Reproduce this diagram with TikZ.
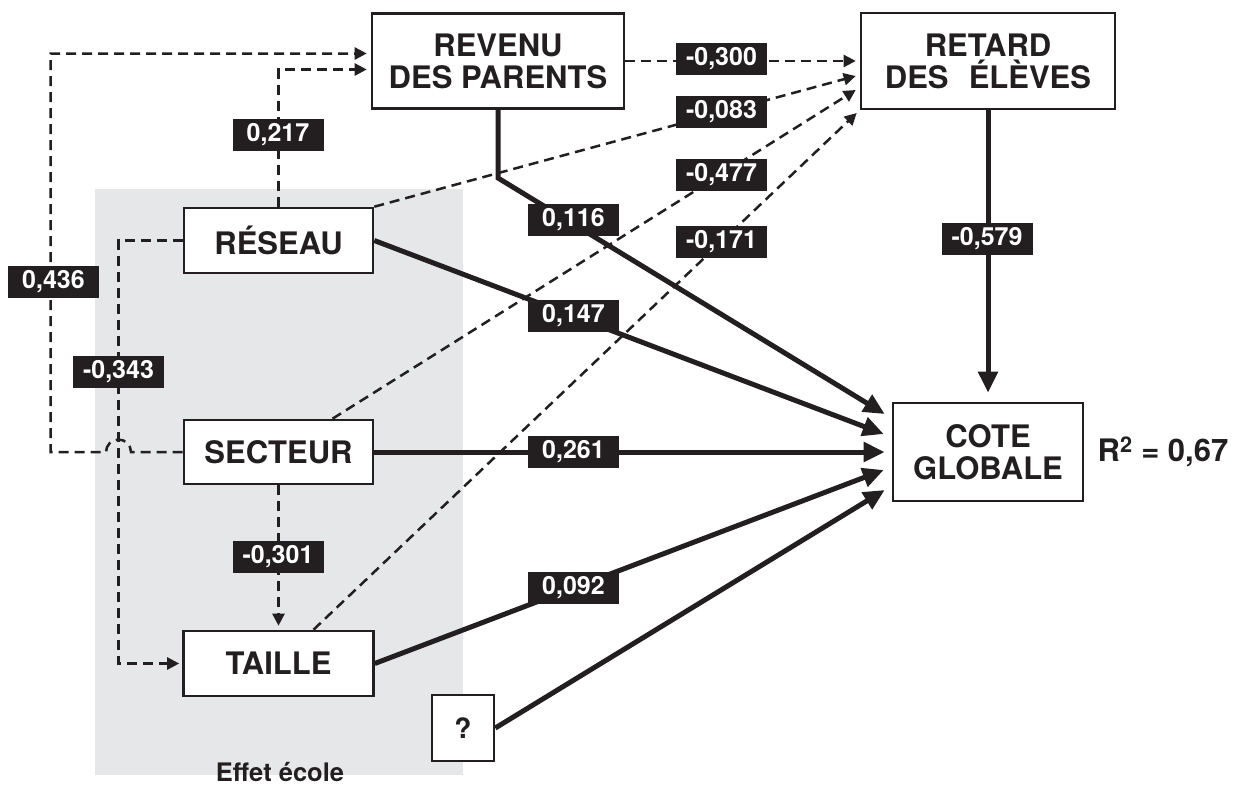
\documentclass[tikz,border=0pt]{standalone}
\usepackage{fontspec}
\setmainfont{TeX Gyre Heros}
\usetikzlibrary{arrows.meta}
\definecolor{ink}{HTML}{231F20}
\definecolor{zone}{HTML}{E6E7E8}
\begin{document}
\begin{tikzpicture}[x=1pt,y=-1pt,
  var/.style={draw=ink, line width=2.6pt, fill=white, align=center, inner sep=0pt,
    font=\fontsize{31}{32}\selectfont\bfseries, text=ink},
  lab/.style={fill=ink, text=white, inner sep=0pt, minimum width=91pt, minimum height=32pt,
    font=\fontsize{25}{25}\selectfont\bfseries},
  dline/.style={draw=ink, line width=2.5pt, dash pattern=on 10pt off 6pt},
  dlink/.style={dline, -{Triangle[length=12pt,width=12pt]}},
  slink/.style={draw=ink, line width=5pt, -{Triangle[length=21pt,width=19pt]}},
]
\useasboundingbox (0,0) rectangle (1233,785);
\fill[zone] (95,189) rectangle (463,775);
\node[font=\fontsize{25.5}{26}\selectfont\bfseries, text=ink, anchor=base, inner sep=0pt] (effet) at (280,781) {Effet école};

% nodes
\node[var, minimum width=252pt, minimum height=95pt] (rev) at (498,61) {REVENU\\DES PARENTS};
\node[var, minimum width=254pt, minimum height=96pt] (ret) at (988,61) {RETARD\\DES\hspace{0.65em}ÉLÈVES};
\node[var, minimum width=189pt, minimum height=65pt] (res) at (278.5,240.5) {RÉSEAU};
\node[var, minimum width=189pt, minimum height=64pt] (sec) at (278.5,452) {SECTEUR};
\node[var, minimum width=190pt, minimum height=65pt] (tai) at (278.5,663.5) {TAILLE};
\node[var, minimum width=62pt, minimum height=66pt, font=\fontsize{28}{28}\selectfont\bfseries] (q) at (463,728) {?};
\node[var, minimum width=190pt, minimum height=98pt] (cot) at (988,452) {COTE\\GLOBALE};
\node[font=\fontsize{31}{32}\selectfont\bfseries, text=ink] (r2) at (1163,452) {R\textsuperscript{2} = 0,67};

% corner coordinates
\coordinate (jR) at (131,452);
\coordinate (c1) at (50.7,452);
\coordinate (c3) at (118.5,452);
\coordinate (bend) at (498,178);

% dashed links
\draw[dlink, shorten >=4pt] (sec.west) -- (jR) arc[start angle=0, end angle=180, radius=12.5pt] -- (c1) |- ([yshift=7.5pt]rev.west);
\draw[dlink, shorten >=4pt] (res.north) |- ([yshift=-8.5pt]rev.west);
\draw[dlink, shorten >=3pt] (res.west) -| (c3) |- (tai.west);
\draw[dlink, shorten >=4pt] (sec.south) -- (tai.north);
\draw[dlink] (rev.east) -- ([xshift=-4pt]ret.west);
\draw[dlink] (res.north east) -- ([xshift=-4pt,yshift=-15pt]ret.west);
\draw[dlink] ([xshift=54pt]sec.north) -- ([xshift=-4pt,yshift=-29pt]ret.west);
\draw[dlink] ([xshift=35pt]tai.north) -- ([xshift=-3pt,yshift=-52pt]ret.west);

% solid links
\draw[slink] (rev.south) -- (bend) -- ([xshift=-7pt,yshift=38pt]cot.west);
\draw[slink] (res.east) -- ([xshift=-8pt,yshift=18pt]cot.west);
\draw[slink] (sec.east) -- ([xshift=-7pt]cot.west);
\draw[slink] (tai.east) -- ([xshift=-8pt,yshift=-18pt]cot.west);
\draw[slink] (q.east) -- ([xshift=-7pt,yshift=-38pt]cot.west);
\draw[slink, shorten >=9pt] (ret.south) -- (cot.north);

% labels
\node[lab] (l436) at (53.5,282) {0,436};
\node[lab] (l217) at (278,135) {0,217};
\node[lab] (l343) at (118.5,372) {-0,343};
\node[lab] (l301) at (278,557) {-0,301};
\node[lab] (l300) at (721.5,59) {-0,300};
\node[lab] (l083) at (721.5,112) {-0,083};
\node[lab] (l477) at (721.5,175) {-0,477};
\node[lab] (l171) at (721.5,242) {-0,171};
\node[lab] (l116) at (573.5,220) {0,116};
\node[lab] (l147) at (573.5,316) {0,147};
\node[lab] (l261) at (573.5,452) {0,261};
\node[lab] (l092) at (573.5,588) {0,092};
\node[lab] (l579) at (987,238.5) {-0,579};
\end{tikzpicture}
\end{document}
